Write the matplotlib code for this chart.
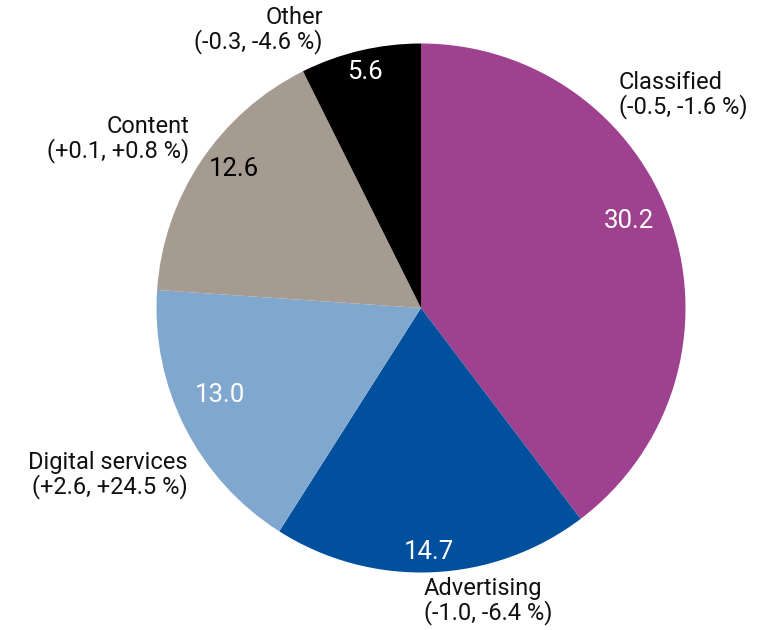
import matplotlib
matplotlib.use("Agg")
import matplotlib.pyplot as plt
import numpy as np

categories = ["Classified", "Advertising", "Digital services", "Content", "Other"]
values = [30.2, 14.7, 13.0, 12.6, 5.6]
changes = ["(-0.5, -1.6 %)", "(-1.0, -6.4 %)", "(+2.6, +24.5 %)", "(+0.1, +0.8 %)", "(-0.3, -4.6 %)"]
colors = ["#9E4290", "#00509E", "#80A8CE", "#A59B90", "#000000"]
value_colors = ["white", "white", "white", "black", "white"]

# layout (pixel geometry of the reference)
W, H = 760, 630
cx, cy, R = 421, 308, 264.5
label_pos = {  # (x px, y px, ha)
    "Classified": (619, 95, "left"),
    "Advertising": (424, 601, "left"),
    "Digital services": (188, 475, "right"),
    "Content": (189, 139, "right"),
    "Other": (323, 30, "right"),
}
value_r = [0.853, 0.923, 0.83, 0.881, 0.916]
value_dang = [4.2, -0.6, -3.5, -2.9, 0.25]

plt.rcParams['font.family'] = ['Roboto', 'DejaVu Sans']
fig = plt.figure(figsize=(W / 100, H / 100), dpi=100)
ax = fig.add_axes([0, 0, 1, 1])

wedges, _ = ax.pie(values, colors=colors, startangle=90, counterclock=False,
                   radius=1, wedgeprops=dict(linewidth=0))
ax.set_xlim(-cx / R, (W - cx) / R)
ax.set_ylim((cy - H) / R, cy / R)
ax.set_aspect('equal')
ax.axis('off')

for i, w in enumerate(wedges):
    ang = np.deg2rad((w.theta1 + w.theta2) / 2 + value_dang[i])
    r = value_r[i]
    ax.text(r * np.cos(ang), r * np.sin(ang), f"{values[i]:.1f}",
            ha='center', va='center', fontsize=18.5,
            color=value_colors[i])

for i, cat in enumerate(categories):
    px, py, ha = label_pos[cat]
    ax.text((px - cx) / R, (cy - py) / R, f"{cat}\n{changes[i]}",
            ha=ha, va='center', multialignment=ha, fontsize=17,
            color='#111111', linespacing=0.98)

fig.savefig("out.png", dpi=100)
